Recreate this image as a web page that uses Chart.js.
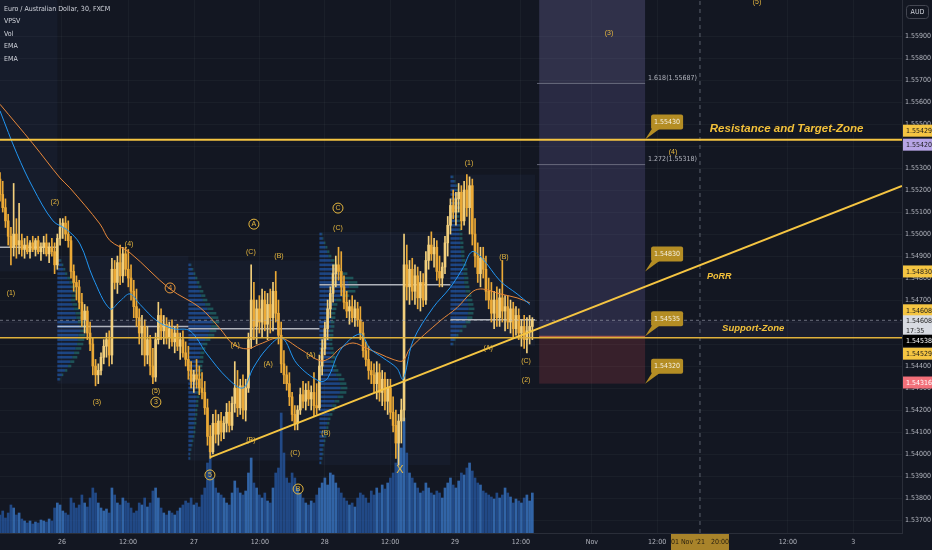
<!DOCTYPE html>
<html>
<head>
<meta charset="utf-8">
<script src="https://cdn.jsdelivr.net/npm/chart.js@4.4.0/dist/chart.umd.min.js"></script>
<style>
html, body { margin: 0; padding: 0; background: #131722; overflow: hidden; }
canvas { display: block; }
</style>
</head>
<body>
<canvas id="chart" width="932" height="550" style="width:932px;height:550px"></canvas>
<script>
const NARROW = "'Liberation Sans Narrow', 'DejaVu Sans Condensed', 'Roboto Condensed', sans-serif";
const WIDE = "'Liberation Sans', 'DejaVu Sans', sans-serif";

// 30 min candles, EUR/AUD, index 0 = first bar on screen
const opens = [
  1.5525,1.5518,1.5512,1.5506,1.5499,1.5494,1.5500,1.5495,1.5497,1.5493,
  1.5495,1.5492,1.5496,1.5493,1.5497,1.5492,1.5494,1.5496,1.5491,1.5494,
  1.5492,1.5486,1.5498,1.5503,1.5505,1.5500,1.5497,1.5483,1.5478,1.5476,
  1.5469,1.5461,1.5465,1.5455,1.5450,1.5440,1.5436,1.5438,1.5444,1.5449,
  1.5452,1.5445,1.5484,1.5478,1.5487,1.5481,1.5491,1.5484,1.5480,1.5474,
  1.5467,1.5462,1.5455,1.5458,1.5445,1.5452,1.5440,1.5435,1.5452,1.5463,
  1.5456,1.5459,1.5453,1.5457,1.5451,1.5455,1.5449,1.5452,1.5446,1.5443,
  1.5438,1.5433,1.5436,1.5434,1.5430,1.5428,1.5421,1.5408,1.5401,1.5414,
  1.5409,1.5415,1.5410,1.5414,1.5419,1.5413,1.5423,1.5430,1.5421,1.5431,
  1.5420,1.5430,1.5452,1.5470,1.5458,1.5466,1.5460,1.5470,1.5459,1.5468,
  1.5462,1.5474,1.5464,1.5454,1.5441,1.5436,1.5432,1.5426,1.5418,1.5414,
  1.5420,1.5427,1.5424,1.5429,1.5425,1.5428,1.5422,1.5421,1.5440,1.5448,
  1.5457,1.5466,1.5473,1.5482,1.5486,1.5483,1.5476,1.5469,1.5465,1.5467,
  1.5462,1.5466,1.5461,1.5455,1.5447,1.5443,1.5438,1.5436,1.5432,1.5437,
  1.5428,1.5434,1.5424,1.5430,1.5419,1.5413,1.5405,1.5415,1.5420,1.5486,
  1.5476,1.5484,1.5474,1.5481,1.5471,1.5478,1.5470,1.5488,1.5495,1.5491,
  1.5494,1.5483,1.5480,1.5485,1.5496,1.5504,1.5513,1.5510,1.5516,1.5519,
  1.5506,1.5520,1.5512,1.5522,1.5500,1.5490,1.5482,1.5489,1.5484,1.5474,
  1.5470,1.5464,1.5470,1.5462,1.5471,1.5465,1.5467,1.5460,1.5466,1.5457,
  1.5463,1.5455,1.5458,1.5452,1.5456,1.5458
];
const highs = [
  1.5528,1.5524,1.5516,1.5509,1.5503,1.5523,1.5507,1.5514,1.5500,1.5498,
  1.5499,1.5497,1.5499,1.5498,1.5499,1.5496,1.5499,1.5500,1.5496,1.5498,
  1.5496,1.5500,1.5507,1.5507,1.5508,1.5506,1.5499,1.5486,1.5481,1.5479,
  1.5473,1.5468,1.5467,1.5460,1.5453,1.5443,1.5441,1.5446,1.5452,1.5455,
  1.5456,1.5489,1.5488,1.5490,1.5495,1.5494,1.5494,1.5493,1.5486,1.5479,
  1.5475,1.5466,1.5463,1.5461,1.5458,1.5454,1.5448,1.5455,1.5469,1.5466,
  1.5463,1.5462,1.5460,1.5461,1.5458,1.5459,1.5455,1.5456,1.5451,1.5449,
  1.5442,1.5438,1.5443,1.5440,1.5437,1.5433,1.5425,1.5413,1.5418,1.5420,
  1.5418,1.5419,1.5417,1.5423,1.5424,1.5426,1.5442,1.5438,1.5434,1.5436,
  1.5434,1.5455,1.5486,1.5478,1.5470,1.5472,1.5475,1.5474,1.5473,1.5475,
  1.5478,1.5483,1.5470,1.5460,1.5447,1.5440,1.5437,1.5428,1.5422,1.5422,
  1.5430,1.5433,1.5432,1.5433,1.5431,1.5437,1.5432,1.5445,1.5452,1.5460,
  1.5470,1.5476,1.5486,1.5490,1.5494,1.5492,1.5481,1.5474,1.5470,1.5472,
  1.5470,1.5469,1.5467,1.5460,1.5451,1.5449,1.5442,1.5441,1.5442,1.5441,
  1.5438,1.5437,1.5434,1.5434,1.5426,1.5420,1.5418,1.5425,1.5500,1.5495,
  1.5488,1.5489,1.5486,1.5485,1.5483,1.5482,1.5492,1.5499,1.5501,1.5498,
  1.5497,1.5490,1.5487,1.5499,1.5508,1.5516,1.5520,1.5519,1.5523,1.5522,
  1.5524,1.5527,1.5526,1.5525,1.5507,1.5496,1.5494,1.5494,1.5490,1.5480,
  1.5478,1.5474,1.5476,1.5475,1.5488,1.5472,1.5472,1.5470,1.5469,1.5467,
  1.5466,1.5461,1.5463,1.5462,1.5463,1.5462
];
const lows = [
  1.5515,1.5510,1.5503,1.5495,1.5486,1.5490,1.5489,1.5491,1.5490,1.5489,
  1.5491,1.5489,1.5492,1.5490,1.5491,1.5488,1.5491,1.5490,1.5487,1.5490,
  1.5482,1.5484,1.5495,1.5498,1.5497,1.5494,1.5480,1.5474,1.5470,1.5466,
  1.5458,1.5455,1.5452,1.5447,1.5436,1.5431,1.5432,1.5436,1.5441,1.5444,
  1.5440,1.5441,1.5475,1.5473,1.5477,1.5478,1.5481,1.5476,1.5470,1.5462,
  1.5458,1.5450,1.5445,1.5440,1.5441,1.5436,1.5432,1.5433,1.5450,1.5452,
  1.5450,1.5450,1.5448,1.5449,1.5446,1.5447,1.5443,1.5444,1.5440,1.5434,
  1.5430,1.5428,1.5430,1.5427,1.5425,1.5418,1.5404,1.5398,1.5400,1.5405,
  1.5404,1.5406,1.5407,1.5410,1.5410,1.5411,1.5419,1.5417,1.5418,1.5416,
  1.5415,1.5428,1.5448,1.5452,1.5450,1.5455,1.5453,1.5456,1.5452,1.5455,
  1.5456,1.5460,1.5450,1.5437,1.5432,1.5429,1.5422,1.5415,1.5411,1.5411,
  1.5418,1.5421,1.5420,1.5422,1.5420,1.5417,1.5418,1.5420,1.5436,1.5445,
  1.5452,1.5462,1.5469,1.5476,1.5479,1.5472,1.5466,1.5462,1.5459,1.5460,
  1.5458,1.5458,1.5452,1.5444,1.5440,1.5434,1.5432,1.5428,1.5425,1.5424,
  1.5422,1.5420,1.5418,1.5416,1.5410,1.5398,1.5395,1.5405,1.5415,1.5470,
  1.5468,1.5470,1.5468,1.5466,1.5465,1.5467,1.5468,1.5484,1.5488,1.5485,
  1.5479,1.5476,1.5476,1.5482,1.5490,1.5500,1.5507,1.5504,1.5510,1.5502,
  1.5504,1.5508,1.5500,1.5495,1.5485,1.5478,1.5476,1.5480,1.5470,1.5466,
  1.5460,1.5457,1.5458,1.5458,1.5460,1.5456,1.5457,1.5455,1.5453,1.5454,
  1.5452,1.5449,1.5448,1.5446,1.5450,1.5452
];
const closes = [
  1.5518,1.5512,1.5506,1.5499,1.5494,1.5500,1.5495,1.5497,1.5493,1.5495,
  1.5492,1.5496,1.5493,1.5497,1.5492,1.5494,1.5496,1.5491,1.5494,1.5492,
  1.5486,1.5498,1.5503,1.5505,1.5500,1.5497,1.5483,1.5478,1.5476,1.5469,
  1.5461,1.5465,1.5455,1.5450,1.5440,1.5436,1.5438,1.5444,1.5449,1.5452,
  1.5445,1.5484,1.5478,1.5487,1.5481,1.5491,1.5484,1.5480,1.5474,1.5467,
  1.5462,1.5455,1.5458,1.5445,1.5452,1.5440,1.5435,1.5452,1.5463,1.5456,
  1.5459,1.5453,1.5457,1.5451,1.5455,1.5449,1.5452,1.5446,1.5443,1.5438,
  1.5433,1.5436,1.5434,1.5430,1.5428,1.5421,1.5408,1.5401,1.5414,1.5409,
  1.5415,1.5410,1.5414,1.5419,1.5413,1.5423,1.5430,1.5421,1.5431,1.5420,
  1.5430,1.5452,1.5470,1.5458,1.5466,1.5460,1.5470,1.5459,1.5468,1.5462,
  1.5474,1.5464,1.5454,1.5441,1.5436,1.5432,1.5426,1.5418,1.5414,1.5420,
  1.5427,1.5424,1.5429,1.5425,1.5428,1.5422,1.5421,1.5440,1.5448,1.5457,
  1.5466,1.5473,1.5482,1.5486,1.5483,1.5476,1.5469,1.5465,1.5467,1.5462,
  1.5466,1.5461,1.5455,1.5447,1.5443,1.5438,1.5436,1.5432,1.5437,1.5428,
  1.5434,1.5424,1.5430,1.5419,1.5413,1.5405,1.5415,1.5420,1.5486,1.5476,
  1.5484,1.5474,1.5481,1.5471,1.5478,1.5470,1.5488,1.5495,1.5491,1.5494,
  1.5483,1.5480,1.5485,1.5496,1.5504,1.5513,1.5510,1.5516,1.5519,1.5506,
  1.5520,1.5512,1.5522,1.5500,1.5490,1.5482,1.5489,1.5484,1.5474,1.5470,
  1.5464,1.5470,1.5462,1.5471,1.5465,1.5467,1.5460,1.5466,1.5457,1.5463,
  1.5455,1.5458,1.5452,1.5456,1.5458,1.54608
];
const volumes = [
  18,22,15,20,28,25,18,20,14,12,10,12,9,11,10,13,12,11,14,12,25,30,
  28,22,20,18,35,30,25,28,38,30,26,35,45,40,30,25,22,24,20,45,38,30,28,35,32,30,25,
  20,22,30,28,35,26,30,42,45,35,25,20,18,22,20,18,22,25,28,32,30,35,28,30,26,38,45,
  70,85,55,45,40,38,35,30,28,40,52,45,40,38,42,60,75,50,45,38,35,40,32,30,45,60,
  65,120,80,55,50,60,55,45,40,35,30,28,32,30,38,45,50,55,48,60,58,50,45,40,35,32,
  28,30,26,35,40,38,35,30,42,38,45,40,48,44,50,55,60,70,90,85,115,80,60,55,50,45,40,42,
  50,45,40,38,42,40,35,45,50,55,48,45,52,60,58,65,70,62,55,50,48,42,40,38,36,34,40,35,38,45,
  40,36,30,34,32,30,35,38,32,40
];

// time axis (bar index units)
const tickPos = [22.7, 46.9, 71.1, 95.2, 119, 142.9, 166.7, 190.8, 216.8, 240.7, 288.6, 312.5];
const tickLabels = ['26', '12:00', '27', '12:00', '28', '12:00', '29', '12:00', 'Nov', '12:00', '12:00', '3'];

// EMAs
const emaBlueX = [0, 6.2, 12.1, 19.4, 24.5, 29.3, 34.1, 40.3, 44, 47.6, 51.3, 57.5, 63.4, 69.6, 75.8, 83.2, 89, 92.7, 97.8, 103.3, 108.8, 117.2, 120.1, 124.5, 131.9, 135.5, 140.3, 145.4, 147.6, 151.3, 158.6, 164.8, 169.6, 172.9, 176.6, 183.2, 189.4, 194.1];
const emaBlueY = [1.5556, 1.55365, 1.5521, 1.5506, 1.5502, 1.54955, 1.548, 1.5466, 1.54696, 1.54728, 1.5468, 1.54605, 1.5457, 1.5456, 1.54455, 1.54346, 1.543, 1.5439, 1.5448, 1.54528, 1.5441, 1.5433, 1.54346, 1.5447, 1.54546, 1.5448, 1.54437, 1.5439, 1.5434, 1.54515, 1.54665, 1.54755, 1.54846, 1.5492, 1.5489, 1.54787, 1.54728, 1.5468];
const emaOrangeX = [0, 12.1, 22, 25.6, 36.6, 40.3, 47.6, 62.3, 73.3, 80.6, 85.3, 90.5, 95.2, 102.6, 109.9, 117.2, 120.9, 124.5, 129.3, 134.4, 139.2, 144, 147.6, 150.2, 161.2, 167.4, 173.3, 176.9, 183.2, 189.4, 194.1];
const emaOrangeY = [1.5559, 1.5541, 1.55255, 1.5521, 1.55046, 1.5497, 1.54915, 1.5475, 1.54665, 1.5457, 1.545, 1.54478, 1.545, 1.54528, 1.54478, 1.54424, 1.54437, 1.5448, 1.54505, 1.5448, 1.54455, 1.5443, 1.54424, 1.5448, 1.54605, 1.54665, 1.5474, 1.5475, 1.54728, 1.5471, 1.54687];

// session volume profiles
const sessStart = [0, 21, 69, 117, 165];
const sessEnd = [21, 69, 117, 165, 196];
const sessHigh = [1.5610, 1.5490, 1.5488, 1.5501, 1.5527];
const sessLow = [1.5483, 1.5432, 1.5397, 1.5395, 1.5449];
const sessPoc = [1.5494, 1.5458, 1.5457, 1.5477, 1.5461];
const vpTop = [null, 1.5488, 1.5486, 1.5500, 1.5526];
const vpRows = [
  [],
  [4,6,8,10,13,16,18,20,19,18,20,22,24,25,27,29,30,28,27,26,24,22,20,17,14,10,6,3],
  [3,5,7,9,11,13,15,17,19,22,25,28,30,31,30,28,26,22,19,17,16,15,15,14,14,13,13,12,12,11,11,10,10,9,9,8,8,7,7,6,5,4,3,2,2],
  [3,4,6,8,10,12,15,18,22,28,34,38,39,36,30,22,18,17,16,16,15,15,14,14,13,13,14,15,16,15,17,19,22,25,27,28,27,24,20,17,15,13,11,10,9,8,7,6,5,4,4,3,2],
  [3,5,7,8,9,9,10,10,9,9,10,11,11,12,12,13,13,14,14,15,16,17,17,18,18,19,20,21,22,23,24,23,22,20,16,12,8,5,3]
];
const VP_STEP = 0.0002;
const VP_UNIT = 0.366;

// drawings
const resistance = 1.55429;
const support = 1.54529;
const lastPrice = 1.54608;
const trendX = [76.9, 330.4];
const trendY = [1.53985, 1.55219];
const crossX = 256.4;
const posLeft = 197.5, posRight = 236.3;
const posEntry = 1.54535, posStop = 1.5432, posTarget = 1.5610;
const fibLevels = [1.55687, 1.55318];
const fibTexts = ['1.618(1.55687)', '1.272(1.55318)'];
const calloutPrices = [1.5543, 1.5483, 1.54535, 1.5432];
const calloutTexts = ['1.55430', '1.54830', '1.54535', '1.54320'];

const waveText = ['(1)','(2)','(4)','4','(3)','(5)','3','(C)','A','(B)','(A)','(A)','(A)','(B)','(C)','5','B','X','(B)','(C)','C','(1)','(B)','(A)','(C)','(2)','(3)','(4)','(5)'];
const waveX = [4.0, 20.1, 47.3, 62.3, 35.5, 57.1, 57.1, 91.9, 93.0, 102.2, 86.1, 98.2, 113.9, 91.9, 108.1, 76.9, 109.2, 146.5, 119.4, 123.8, 123.8, 171.8, 184.6, 178.8, 192.7, 192.7, 223.1, 246.5, 277.3];
const waveY = [1.54732, 1.55146, 1.54955, 1.54755, 1.54236, 1.54286, 1.54236, 1.54918, 1.55045, 1.549, 1.54495, 1.54409, 1.5445, 1.54064, 1.54005, 1.53905, 1.53841, 1.53927, 1.54095, 1.55027, 1.55118, 1.55323, 1.54895, 1.54482, 1.54423, 1.54336, 1.55914, 1.55373, 1.56055];
const waveCircle = [0,0,0,1,0,0,1,0,1,0,0,0,0,0,0,1,1,0,0,0,1,0,0,0,0,0,0,0,0];

const noteText = ['Resistance and Target-Zone', 'PoRR', 'Support-Zone'];
const noteX = [260, 259, 264.5];
const noteY = [1.55477, 1.54809, 1.54573];
const noteSize = [11.5, 9, 9.5];

const tagText = ['1.55429', '1.55420', '1.54830', '1.54608', '1.54608', '1.54538', '1.54529', '1.54316'];
const tagPrice = [1.55429, 1.55420, 1.54830, 1.54608, 1.54608, 1.54538, 1.54529, 1.54316];
const tagSub = ['', '', '', '', '17:35', '', '', ''];
const tagBg = ['#f5c542', '#b7a5e6', '#f5c542', '#f5c542', '#d8dbe2', '#000000', '#f5c542', '#f2707a'];
const tagFg = ['#1a1a1a', '#1a1a1a', '#1a1a1a', '#1a1a1a', '#1a1a1a', '#ffffff', '#1a1a1a', '#ffffff'];
const tagNudge = [-9, 3, 0, -10, 6, 5, 16, -2];

const legendLines = ['Euro / Australian Dollar, 30, FXCM', 'VPSV', 'Vol', 'EMA', 'EMA'];

const X_MAX = 330.4;
const Y_MIN = 1.53641, Y_MAX = 1.56064;
const UP = '#f2cf7c', DOWN = '#eba936';

const isUp = closes.map((c, i) => c >= opens[i]);
const candleColors = isUp.map(u => u ? UP : DOWN);

function rr(c, x, y, w, h, r) {
  c.beginPath();
  c.moveTo(x + r, y);
  c.lineTo(x + w - r, y); c.quadraticCurveTo(x + w, y, x + w, y + r);
  c.lineTo(x + w, y + h - r); c.quadraticCurveTo(x + w, y + h, x + w - r, y + h);
  c.lineTo(x + r, y + h); c.quadraticCurveTo(x, y + h, x, y + h - r);
  c.lineTo(x, y + r); c.quadraticCurveTo(x, y, x + r, y);
  c.closePath();
}

const noPad = s => { s.paddingTop = 0; s.paddingBottom = 0; s.paddingLeft = 0; s.paddingRight = 0; };

const tvPlugin = {
  id: 'tv',
  beforeDraw(chart) {
    const c = chart.ctx;
    c.save();
    c.fillStyle = '#131722';
    c.fillRect(0, 0, chart.width, chart.height);
    c.restore();
  },
  beforeDatasetsDraw(chart) {
    const c = chart.ctx, a = chart.chartArea;
    const X = v => chart.scales.x.getPixelForValue(v);
    const Y = v => chart.scales.y.getPixelForValue(v);
    c.save();
    c.beginPath(); c.rect(a.left, a.top, a.right - a.left, a.bottom - a.top); c.clip();

    // session boxes
    c.fillStyle = 'rgba(70,100,170,0.07)';
    sessStart.forEach((s, i) => {
      c.fillRect(X(s), Y(sessHigh[i]), X(sessEnd[i]) - X(s), Y(sessLow[i]) - Y(sessHigh[i]));
    });

    // support band
    c.fillStyle = 'rgba(130,120,200,0.07)';
    c.fillRect(a.left, Y(lastPrice), a.right - a.left, Y(support) - Y(lastPrice));

    // long position
    c.fillStyle = 'rgba(130,120,200,0.2)';
    c.fillRect(X(posLeft), Y(posTarget), X(posRight) - X(posLeft), Y(posEntry) - Y(posTarget));
    c.fillStyle = 'rgba(200,200,220,0.05)';
    c.fillRect(X(posLeft), Y(posTarget), X(posRight) - X(posLeft), Y(fibLevels[0]) - Y(posTarget));
    c.fillStyle = 'rgba(220,80,90,0.18)';
    c.fillRect(X(posLeft), Y(posEntry), X(posRight) - X(posLeft), Y(posStop) - Y(posEntry));
    c.strokeStyle = 'rgba(230,120,80,0.8)';
    c.lineWidth = 1;
    c.beginPath(); c.moveTo(X(posLeft), Y(posEntry)); c.lineTo(X(posRight), Y(posEntry)); c.stroke();
    c.strokeStyle = 'rgba(120,123,140,0.8)';
    fibLevels.forEach(f => {
      c.beginPath(); c.moveTo(X(posLeft - 0.8), Y(f) + 0.5); c.lineTo(X(posRight), Y(f) + 0.5); c.stroke();
    });

    // volume profiles
    vpRows.forEach((rows, s) => {
      rows.forEach((v, k) => {
        const y = Y(vpTop[s] - k * VP_STEP);
        const x0 = X(sessStart[s]);
        const w = X(sessStart[s] + v * VP_UNIT) - x0;
        c.fillStyle = 'rgba(33,96,190,0.6)';
        c.fillRect(x0, y - 1.3, w * 0.76, 2.6);
        c.fillStyle = 'rgba(40,160,150,0.42)';
        c.fillRect(x0 + w * 0.76, y - 1.3, w * 0.24, 2.6);
      });
    });

    // point of control lines
    c.strokeStyle = 'rgba(225,228,235,0.75)';
    c.lineWidth = 1.5;
    sessPoc.forEach((p, i) => {
      c.beginPath(); c.moveTo(X(sessStart[i]), Y(p)); c.lineTo(X(sessEnd[i]), Y(p)); c.stroke();
    });
    c.restore();
  },
  afterDatasetsDraw(chart) {
    const c = chart.ctx, a = chart.chartArea;
    const X = v => chart.scales.x.getPixelForValue(v);
    const Y = v => chart.scales.y.getPixelForValue(v);
    c.save();
    c.beginPath(); c.rect(a.left, a.top, a.right - a.left, a.bottom - a.top); c.clip();
    c.textAlign = 'center';
    c.textBaseline = 'middle';

    // wave counts
    waveText.forEach((t, i) => {
      const x = X(waveX[i]), y = Y(waveY[i]);
      const col = t === '4' ? '#e99a3c' : '#e7b83f';
      c.fillStyle = col;
      if (t === 'X') {
        c.font = `11px ${WIDE}`;
        c.fillText(t, x, y);
        return;
      }
      c.font = `7px ${WIDE}`;
      c.fillText(t, x, y);
      if (waveCircle[i]) {
        c.strokeStyle = col;
        c.lineWidth = 1;
        c.beginPath(); c.arc(x, y, 5, 0, Math.PI * 2); c.stroke();
      }
    });

    // notes
    c.textAlign = 'left';
    c.fillStyle = '#f3c13a';
    noteText.forEach((t, i) => {
      c.font = `italic bold ${noteSize[i]}px ${WIDE}`;
      c.fillText(t, X(noteX[i]), Y(noteY[i]));
    });

    // fib labels
    c.font = `7px ${NARROW}`;
    c.fillStyle = '#b2b5be';
    fibTexts.forEach((t, i) => c.fillText(t, X(posRight) + 3, Y(fibLevels[i]) - 5));

    // price callouts
    calloutPrices.forEach((p, i) => {
      const ax = X(posRight), ay = Y(p);
      const bx = ax + 6, by = ay - 25, w = 32, h = 15;
      c.fillStyle = '#b48d24';
      rr(c, bx, by, w, h, 2); c.fill();
      c.beginPath(); c.moveTo(bx + 1, by + h - 1); c.lineTo(bx + 9, by + h - 1); c.lineTo(ax, ay); c.closePath(); c.fill();
      c.fillStyle = '#f6f1e2';
      c.textAlign = 'center';
      c.font = `7px ${NARROW}`;
      c.fillText(calloutTexts[i], bx + w / 2, by + h / 2 + 0.5);
    });
    c.restore();
  },
  afterDraw(chart) {
    const c = chart.ctx, a = chart.chartArea;
    const X = v => chart.scales.x.getPixelForValue(v);
    const Y = v => chart.scales.y.getPixelForValue(v);
    c.save();
    c.textBaseline = 'middle';

    // price scale tags
    const left = a.right + 1;
    tagText.forEach((t, i) => {
      const cy = Y(tagPrice[i]) + tagNudge[i];
      const h = tagSub[i] ? 22 : 12;
      c.fillStyle = tagBg[i];
      c.fillRect(left, cy - h / 2, chart.width - left, h);
      c.fillStyle = tagFg[i];
      c.textAlign = 'left';
      c.font = `7px ${NARROW}`;
      if (tagSub[i]) {
        c.fillText(t, left + 3, cy - 5);
        c.fillText(tagSub[i], left + 3, cy + 5);
      } else {
        c.fillText(t, left + 3, cy + 0.5);
      }
    });

    // AUD label
    c.fillStyle = '#131722';
    c.fillRect(left + 1, 4, 28, 16);
    c.strokeStyle = '#434651';
    c.lineWidth = 1;
    rr(c, left + 3.5, 5.5, 22, 13, 3); c.stroke();
    c.fillStyle = '#d1d4dc';
    c.textAlign = 'center';
    c.font = `7px ${NARROW}`;
    c.fillText('AUD', left + 14.5, 12.5);

    // time crosshair tag
    const cx = X(crossX);
    c.fillStyle = '#a8832a';
    c.fillRect(cx - 29, a.bottom + 1, 58, chart.height - a.bottom - 1);
    c.fillStyle = '#2a2110';
    c.font = `7px ${NARROW}`;
    c.fillText("01 Nov '21   20:00", cx, a.bottom + 9);

    // legend
    c.textAlign = 'left';
    c.fillStyle = '#d1d4dc';
    c.font = `7px ${NARROW}`;
    legendLines.forEach((t, i) => c.fillText(t, 4, 9 + i * 12.5));
    c.restore();
  }
};

const flat = (y) => [{ x: 0, y }, { x: X_MAX, y }];

new Chart(document.getElementById('chart'), {
  type: 'bar',
  data: {
    datasets: [
      {
        type: 'line', label: 'Trend', order: 0,
        data: trendX.map((x, i) => ({ x, y: trendY[i] })),
        borderColor: '#f5c542', borderWidth: 2, pointRadius: 0
      },
      {
        type: 'line', label: 'Resistance', order: 0,
        data: flat(resistance), borderColor: '#f5c542', borderWidth: 2, pointRadius: 0
      },
      {
        type: 'line', label: 'Support', order: 0,
        data: flat(support), borderColor: '#e0b13c', borderWidth: 1.5, pointRadius: 0
      },
      {
        type: 'line', label: 'Last', order: 0,
        data: flat(lastPrice), borderColor: 'rgba(175,180,192,0.55)', borderWidth: 1, borderDash: [3, 3], pointRadius: 0
      },
      {
        type: 'line', label: 'Cross', order: 0,
        data: [{ x: crossX, y: Y_MIN }, { x: crossX, y: Y_MAX }],
        borderColor: 'rgba(150,155,170,0.55)', borderWidth: 1, borderDash: [4, 4], pointRadius: 0
      },
      {
        type: 'line', label: 'EMA', order: 1,
        data: emaBlueX.map((x, i) => ({ x, y: emaBlueY[i] })),
        borderColor: '#2196f3', borderWidth: 1, pointRadius: 0, tension: 0.35
      },
      {
        type: 'line', label: 'EMA', order: 1,
        data: emaOrangeX.map((x, i) => ({ x, y: emaOrangeY[i] })),
        borderColor: '#e8883a', borderWidth: 1, pointRadius: 0, tension: 0.35
      },
      {
        label: 'Body', order: 2, grouped: false,
        data: opens.map((o, i) => ({ x: i, y: [Math.min(o, closes[i]), Math.max(o, closes[i])] })),
        backgroundColor: candleColors, barThickness: 2, minBarLength: 1, borderWidth: 0
      },
      {
        label: 'Wick', order: 3, grouped: false,
        data: highs.map((h, i) => ({ x: i, y: [lows[i], h] })),
        backgroundColor: candleColors, barThickness: 1, borderWidth: 0
      },
      {
        label: 'Vol', order: 5, grouped: false, yAxisID: 'yv',
        data: volumes.map((v, i) => ({ x: i, y: v })),
        backgroundColor: isUp.map(u => u ? 'rgba(58,120,200,0.8)' : 'rgba(38,86,160,0.8)'),
        barThickness: 2, borderWidth: 0
      }
    ]
  },
  options: {
    responsive: false,
    animation: false,
    events: [],
    layout: { padding: 0 },
    plugins: { legend: { display: false }, tooltip: { enabled: false } },
    scales: {
      x: {
        type: 'linear', min: 0, max: X_MAX, offset: false,
        grid: { color: 'rgba(240,243,250,0.035)', offset: false, drawTicks: false },
        border: { color: '#2a2e39' },
        afterBuildTicks: s => { s.ticks = tickPos.map(v => ({ value: v })); },
        afterFit: s => { s.height = 17; noPad(s); },
        ticks: {
          autoSkip: false, maxRotation: 0, padding: 5,
          color: '#b2b5be', font: { size: 7, family: NARROW },
          callback: (v, i) => tickLabels[i]
        }
      },
      y: {
        position: 'right', min: Y_MIN, max: Y_MAX,
        grid: { color: 'rgba(240,243,250,0.035)', drawTicks: false },
        border: { color: '#2a2e39' },
        afterBuildTicks: s => {
          s.ticks = s.ticks.filter(t => Math.abs(t.value * 1000 - Math.round(t.value * 1000)) < 1e-6 && t.value < 1.5595);
        },
        afterFit: s => { s.width = 30; noPad(s); },
        ticks: {
          stepSize: 0.001, includeBounds: false, padding: 3,
          color: '#b2b5be', font: { size: 7, family: NARROW },
          callback: v => v.toFixed(5)
        }
      },
      yv: { display: false, min: 0, max: 533, afterFit: noPad }
    }
  },
  plugins: [tvPlugin]
});
</script>
</body>
</html>
